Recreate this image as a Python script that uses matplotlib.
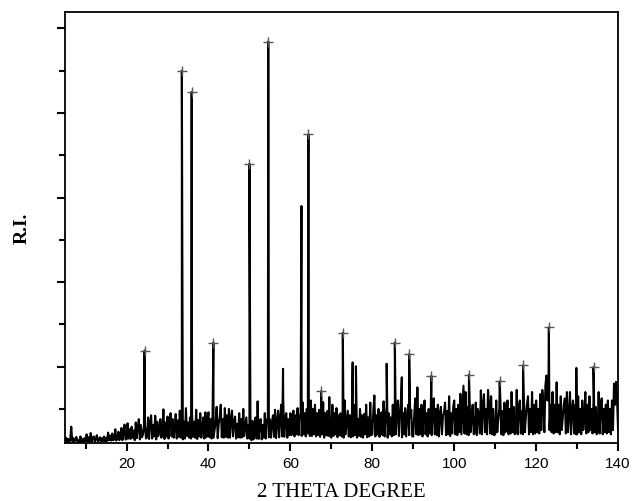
# XRD pattern: relative intensity against 2 theta
import numpy as np
import matplotlib.pyplot as plt

# background scan, 0.25 degree steps from 5 to 140 (arbitrary counts)
scan_start = 5.0
scan_step = 0.25
bg_05 = [30, 120, 20, 90, 10, 70, 380, 40, 110, 20, 80, 140, 30, 60, 10, 150, 20, 90, 10, 110]
bg_10 = [30, 200, 40, 130, 20, 230, 30, 100, 150, 20, 90, 180, 30, 60, 130, 20, 110, 40, 150, 30]
bg_15 = [120, 40, 240, 60, 170, 50, 220, 60, 80, 320, 50, 110, 260, 60, 180, 350, 60, 220, 430, 80]
bg_20 = [80, 460, 100, 320, 90, 380, 120, 290, 60, 480, 110, 360, 560, 80, 420, 130, 190, 380, 420, 100]
bg_25 = [130, 600, 90, 480, 650, 100, 420, 150, 640, 80, 500, 160, 300, 560, 120, 270, 790, 90, 480, 150]
bg_30 = [620, 100, 470, 700, 150, 560, 120, 320, 680, 100, 530, 140, 760, 120, 280, 80, 500, 100, 820, 160]
bg_35 = [480, 120, 600, 100, 650, 140, 500, 120, 780, 90, 540, 150, 700, 120, 380, 600, 100, 720, 130, 520]
bg_40 = [720, 130, 560, 100, 650, 120, 310, 500, 850, 110, 450, 620, 900, 130, 560, 120, 820, 140, 650, 120]
bg_45 = [800, 120, 580, 760, 150, 500, 620, 100, 450, 130, 700, 120, 560, 130, 800, 160, 380, 600, 100, 420]
bg_50 = [100, 420, 60, 520, 80, 280, 600, 100, 980, 90, 450, 560, 80, 420, 120, 700, 100, 500, 620, 130]
bg_55 = [560, 120, 480, 650, 140, 780, 110, 500, 760, 130, 560, 900, 150, 1040, 140, 600, 700, 120, 560, 180]
bg_60 = [700, 180, 600, 760, 150, 650, 200, 820, 180, 620, 700, 160, 950, 200, 700, 150, 800, 220, 1000, 160]
bg_65 = [1000, 160, 800, 200, 900, 150, 700, 180, 780, 140, 620, 200, 960, 120, 700, 180, 750, 160, 1080, 150]
bg_70 = [120, 900, 160, 700, 200, 820, 130, 650, 180, 700, 150, 600, 120, 1000, 200, 480, 760, 150, 650, 130]
bg_75 = [600, 150, 900, 180, 720, 120, 560, 160, 800, 140, 650, 120, 680, 200, 900, 130, 600, 150, 950, 180]
bg_80 = [200, 750, 1120, 150, 650, 200, 800, 140, 600, 720, 180, 980, 150, 620, 850, 120, 700, 200, 600, 150]
bg_85 = [900, 180, 700, 200, 780, 1000, 160, 650, 1050, 130, 700, 200, 820, 150, 650, 900, 180, 600, 780, 150]
bg_90 = [150, 700, 1050, 200, 1310, 180, 800, 200, 900, 150, 650, 1000, 200, 700, 150, 800, 220, 650, 180, 700]
bg_95 = [1050, 200, 800, 180, 900, 150, 700, 850, 200, 650, 700, 950, 180, 750, 200, 1100, 160, 700, 220, 850]
bg_100 = [1000, 200, 800, 180, 900, 250, 1160, 200, 750, 1350, 220, 1200, 200, 850, 180, 1050, 250, 600, 900, 200]
bg_105 = [250, 950, 180, 800, 650, 220, 1240, 200, 900, 1150, 250, 800, 200, 1250, 900, 220, 1100, 200, 800, 180]
bg_110 = [200, 1000, 250, 550, 800, 1050, 200, 750, 180, 950, 250, 600, 1000, 200, 800, 220, 1200, 250, 850, 200]
bg_115 = [250, 1250, 200, 800, 1000, 220, 750, 200, 1050, 250, 650, 900, 1100, 200, 800, 250, 1200, 200, 900, 220]
bg_120 = [1000, 250, 800, 220, 1150, 300, 1250, 900, 250, 1350, 1590, 1000, 1400, 300, 900, 250, 1200, 220, 900, 250]
bg_125 = [1430, 250, 900, 200, 1100, 300, 600, 900, 1050, 220, 1200, 250, 650, 1200, 200, 800, 1000, 220, 900, 200]
bg_130 = [200, 1100, 250, 800, 200, 1000, 300, 600, 1200, 220, 900, 250, 1100, 300, 800, 220, 1000, 250, 850, 200]
bg_135 = [250, 1200, 220, 900, 1050, 200, 800, 250, 900, 220, 1000, 250, 800, 200, 1000, 300, 1400, 900, 1440, 1000, 300]

# sharp reflections: position, height, marked with a cross
peak_pos = [24.4, 33.5, 35.9, 41.2, 50.0, 54.6, 62.7, 64.4, 67.5, 72.8, 85.5, 89.0,
            94.4, 103.6, 111.1, 116.8, 123.1, 134.0, 58.2, 75.2, 76.0, 83.5, 87.2, 129.8]
peak_height = [2180, 8800, 8300, 2370, 6600, 9490, 5600, 7300, 1220, 2600, 2370, 2100,
               1580, 1610, 1450, 1830, 2730, 1790, 1750, 1900, 1810, 1870, 1550, 1770]
peak_marked = [1, 1, 1, 1, 1, 1, 0, 1, 1, 1, 1, 1,
               1, 1, 1, 1, 1, 1, 0, 0, 0, 0, 0, 0]

background = (bg_05 + bg_10 + bg_15 + bg_20 + bg_25 + bg_30 + bg_35 + bg_40 + bg_45
              + bg_50 + bg_55 + bg_60 + bg_65 + bg_70 + bg_75 + bg_80 + bg_85 + bg_90
              + bg_95 + bg_100 + bg_105 + bg_110 + bg_115 + bg_120 + bg_125 + bg_130 + bg_135)
bg_theta = scan_start + scan_step * np.arange(len(background))

theta = np.concatenate((bg_theta, peak_pos))
intensity = np.concatenate((background, peak_height))
order = np.argsort(theta, kind="stable")
theta = theta[order]
intensity = intensity[order]

marked = np.array(peak_marked, dtype=bool)
mark_x = np.array(peak_pos)[marked]
mark_y = np.array(peak_height)[marked]

f = plt.figure(figsize=(6.32, 5.02), dpi=100)
ax = f.add_axes([0.103, 0.116, 0.875, 0.859])
ax.plot(theta, intensity, color="black", linewidth=1.5)
ax.plot(mark_x, mark_y, linestyle="none", marker="+", markersize=7, markeredgewidth=1.0, color="#555555")

ax.set_xlim(5, 140)
ax.set_ylim(0, 10200)
ax.set_xticks([20, 40, 60, 80, 100, 120, 140])
ax.set_xticks([10, 30, 50, 70, 90, 110, 130], minor=True)
ax.set_yticks([1800, 3800, 5800, 7800, 9800])
ax.set_yticks([800, 2800, 4800, 6800, 8800], minor=True)
ax.set_yticklabels([])
ax.tick_params(which="major", direction="out", length=6, width=1.5, labelsize=11)
ax.tick_params(which="minor", direction="out", length=4, width=1.5)
for lab in ax.get_xticklabels():
    lab.set_fontfamily("Liberation Sans")
for s in ax.spines.values():
    s.set_linewidth(1.3)

ax.set_xlabel("2 THETA DEGREE", fontsize=15, fontfamily="Liberation Serif", labelpad=9)
ax.set_ylabel("R.I.", fontsize=14, fontfamily="Liberation Serif", fontweight="bold")
ax.yaxis.set_label_coords(-0.062, 0.5)

f.savefig("out.png", dpi=100)
